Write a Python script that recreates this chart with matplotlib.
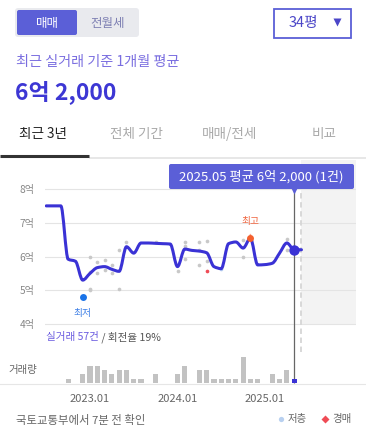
import numpy as np
import matplotlib
matplotlib.use('Agg')
import matplotlib.pyplot as plt
from matplotlib.path import Path
from matplotlib.patches import PathPatch, FancyBboxPatch, Rectangle
from matplotlib.transforms import offset_copy

plt.rcParams['font.family'] = ['Noto Sans CJK KR', 'DejaVu Sans']

W, H = 366, 434

# month index: 0 = 2023.01  (2022.07 ~ 2025.06)
months = np.arange(-6, 30)
avg_price = [7.5, 7.5, 7.5, 5.92, 5.86, 5.3, 5.5, 5.67, 5.7, 5.62, 5.56, 6.29,
             6.1, 6.4, 6.4, 6.39, 6.38, 6.37, 5.7, 6.22, 6.18, 6.16, 6.11, 5.7,
             5.64, 6.38, 6.43, 6.25, 6.54, 5.75, 5.76, 5.8, 6.1, 6.4, 6.2, 6.2]
volume = [0, 0, 0, 1, 0, 2, 4, 4, 3, 2, 3, 3,
          1, 1, 0, 2, 0, 0, 2, 4, 0, 3, 3, 1,
          1, 1, 1, 6, 1, 1, 0, 2, 1, 3, 1, 0]

# individual deals (gray dots)
deal_month = [0, 0, 0, 0, 1, 1, 2, 2, 3, 3, 4, 4, 5, 9, 12, 13, 13, 13,
              15, 15, 15, 16, 16, 21, 21, 27, 27]
deal_price = [6.0, 5.54, 5.05, 5.0, 5.83, 5.5, 5.91, 5.6, 5.76, 5.5, 6.19, 5.05,
              6.42, 6.42, 5.57, 6.42, 6.32, 5.93, 6.42, 6.2, 5.76, 6.45, 5.86,
              6.5, 6.0, 6.52, 6.2]
low_floor_month, low_floor_price = [18], [5.64]
auction_month, auction_price = [16], [5.57]

high_month = 22
low_month = -1
sel_month = 28
future_month = 29

yticks = [4, 5, 6, 7, 8]
ytick_labels = ['4억', '5억', '6억', '7억', '8억']
xticks = [0, 12, 24]
xtick_labels = ['2023.01', '2024.01', '2025.01']

PRIMARY = '#5b5fd7'
LINE = '#3a32d5'


def px_axes(fig, x0, y0, x1, y1):
    return fig.add_axes([x0 / W, 1 - y1 / H, (x1 - x0) / W, (y1 - y0) / H])


def monotone_path(x, y):
    x = np.asarray(x, float)
    y = np.asarray(y, float)
    h = np.diff(x)
    d = np.diff(y) / h
    t = np.zeros_like(y)
    t[0], t[-1] = d[0], d[-1]
    for i in range(1, len(y) - 1):
        if d[i - 1] * d[i] <= 0:
            t[i] = 0
        else:
            t[i] = 3 * (h[i - 1] + h[i]) / ((2 * h[i] + h[i - 1]) / d[i - 1] +
                                            (h[i] + 2 * h[i - 1]) / d[i])
    verts = [(x[0], y[0])]
    codes = [Path.MOVETO]
    for i in range(len(h)):
        verts += [(x[i] + h[i] / 3, y[i] + t[i] * h[i] / 3),
                  (x[i + 1] - h[i] / 3, y[i + 1] - t[i + 1] * h[i] / 3),
                  (x[i + 1], y[i + 1])]
        codes += [Path.CURVE4] * 3
    return Path(verts, codes)


fig = plt.figure(figsize=(W / 100, H / 100), dpi=100)

# ---- UI layer (pixel coords)
ui = fig.add_axes([0, 0, 1, 1])
ui.set_xlim(0, W)
ui.set_ylim(H, 0)
ui.axis('off')

ui.add_patch(FancyBboxPatch((15, 8), 124, 29, boxstyle='round,pad=0,rounding_size=3',
                            fc='#e9eaee', ec='none'))
ui.add_patch(FancyBboxPatch((17, 10), 60, 25, boxstyle='round,pad=0,rounding_size=2',
                            fc=PRIMARY, ec='none'))
ui.text(47, 23, '매매', color='white', fontsize=9, ha='center', va='center')
ui.text(108, 23, '전월세', color='#7e80b3', fontsize=9, ha='center', va='center')

ui.add_patch(Rectangle((273.5, 8.5), 77, 29, fc='white', ec=PRIMARY, lw=1.3))
ui.text(303, 23, '34평', color='#4b46c8', fontsize=10.5, ha='center', va='center')
ui.plot([337], [21.5], marker='v', ms=5.5, color='#4b46c8', mec='none')

ui.text(16, 62, '최근 실거래 기준 1개월 평균', color='#7a6ee0', fontsize=10.2,
        ha='left', va='center')
ui.text(15, 92, '6억 2,000', color='#3d37d4', fontsize=16.5, fontweight='bold',
        ha='left', va='center')

tabs = ['최근 3년', '전체 기간', '매매/전세', '비교']
tab_x = [43, 137, 230, 324]
for i, (tx, tl) in enumerate(zip(tab_x, tabs)):
    ui.text(tx, 134, tl, color='#222222' if i == 0 else '#aaaaaa', fontsize=9.8,
            ha='center', va='center')
ui.plot([89, W], [157.5, 157.5], color='#e3e3e3', lw=1.2, solid_capstyle='butt')
ui.plot([0, 89], [156, 156], color='#333333', lw=2.2, solid_capstyle='butt')

t1 = ui.text(46, 337, '실거래 57건', color='#6a5be0', fontsize=7.6, ha='left',
             va='center')
ui.annotate(' / 회전율 19%', xy=(1, 0.5), xycoords=t1, color='#555555', fontsize=7.6,
            ha='left', va='center')
ui.text(8, 370, '거래량', color='#666666', fontsize=7.5, ha='left', va='center')

ui.plot([0, W], [383.5, 383.5], color='#e6e6e6', lw=0.8)

ui.text(16, 420, '국토교통부에서 7분 전 확인', color='#666666', fontsize=8.2,
        ha='left', va='center')
ui.plot([281], [419], 'o', ms=3.8, color='#b8d0f0', mec='none')
ui.text(288, 419, '저층', color='#666666', fontsize=7.5, ha='left', va='center')
ui.plot([325], [419], 'D', ms=3.6, color='#ef4b55', mec='none')
ui.text(332, 419, '경매', color='#666666', fontsize=7.5, ha='left', va='center')

# ---- price chart
px_per_month = 175 / 24
x0m = (45 - 90) / px_per_month
x1m = (356 - 90) / px_per_month
ax = px_axes(fig, 45, 160, 356, 383)
ax.set_facecolor('none')
ax.set_xlim(x0m, x1m)
px_per_unit = (324 - 189) / 4
ax.set_ylim(4 - (383 - 324) / px_per_unit, 8 + (189 - 160) / px_per_unit)
for s in ax.spines.values():
    s.set_visible(False)
ax.set_xticks([])
ax.set_yticks(yticks, labels=ytick_labels)
ax.tick_params(axis='y', length=0, pad=7.5, labelsize=7.3, labelcolor='#888888')

ax.add_patch(Rectangle((future_month, 4), x1m - future_month, 5, fc='#f3f3f3',
                       ec='none', zorder=0))
for v in yticks:
    ax.axhline(v, color='#e4e4e4', lw=0.8, zorder=1)
ax.vlines(future_month, 4 - (352 - 324) / px_per_unit, 7.97, color='#d6d6d6',
          lw=1.3, linestyles=(0, (3, 2)), zorder=2)
ax.vlines(sel_month, ax.get_ylim()[0], 7.97, color='#666666', lw=0.9, zorder=2,
          clip_on=False)

ax.scatter(deal_month, deal_price, s=7, color='#c8c8c8', lw=0, zorder=3)
ax.scatter(low_floor_month, low_floor_price, s=7, color='#b8d0f0', lw=0, zorder=3)
ax.scatter(auction_month, auction_price, s=7, color='#ef4b55', lw=0, zorder=3)

ax.add_patch(PathPatch(monotone_path(months, avg_price), fc='none', ec=LINE,
                       lw=2.2, capstyle='round', joinstyle='round', zorder=4))

hi_val = avg_price[list(months).index(high_month)]
ax.annotate('최고', xy=(high_month, hi_val), xytext=(0, 17), textcoords='offset pixels',
            ha='center', va='center', fontsize=7, color='#f0653f',
            arrowprops=dict(arrowstyle='-', color='#f6a68c', lw=1.2,
                            shrinkA=4, shrinkB=0), zorder=6)
ax.plot([high_month], [hi_val], 'o', ms=5, color='#f4602e', mec='none', zorder=6)

lo_val = avg_price[list(months).index(low_month)]
lo_tr = offset_copy(ax.transData, fig=fig, y=-17, units='dots')
ax.annotate('최저', xy=(low_month, lo_val), xycoords=lo_tr, xytext=(0, -16),
            textcoords='offset pixels', ha='center', va='center', fontsize=7,
            color='#3d7fe6',
            arrowprops=dict(arrowstyle='-', color='#8ab4f8', lw=1.2,
                            shrinkA=5, shrinkB=0), zorder=6)
ax.plot([low_month], [lo_val], 'o', ms=5, color='#1a73e8', mec='none', zorder=6,
        transform=lo_tr)

sel_val = avg_price[list(months).index(sel_month)]
ax.plot([sel_month], [sel_val], 'o', ms=7.5, color=LINE, mec='none', zorder=7)

# ---- volume bars
bx = px_axes(fig, 45, 340, 356, 383)
bx.set_facecolor('none')
bx.set_xlim(x0m, x1m)
bx.set_ylim(0, 43 / (13 / 3))
for s in bx.spines.values():
    s.set_visible(False)
bx.set_yticks([])
bar_colors = [LINE if m == sel_month else '#c2c2c2' for m in months]
bx.bar(months, volume, width=0.7, color=bar_colors, zorder=3)
bx.set_xticks(xticks, labels=xtick_labels)
bx.tick_params(axis='x', length=0, pad=8, labelsize=8, labelcolor='#666666')

# ---- tooltip on top
tip = fig.add_axes([0, 0, 1, 1])
tip.set_xlim(0, W)
tip.set_ylim(H, 0)
tip.axis('off')
tip.add_patch(FancyBboxPatch((169, 164), 185, 25, boxstyle='round,pad=0,rounding_size=2',
                             fc=PRIMARY, ec='none'))
tip.text(261.5, 176.5, '2025.05 평균 6억 2,000 (1건)', color='white', fontsize=9.5,
         ha='center', va='center')
ax.plot([sel_month], [7.95], marker='v', ms=4.5, color=PRIMARY, mec='none',
        zorder=8, clip_on=False)

fig.savefig('out.png', dpi=100)
